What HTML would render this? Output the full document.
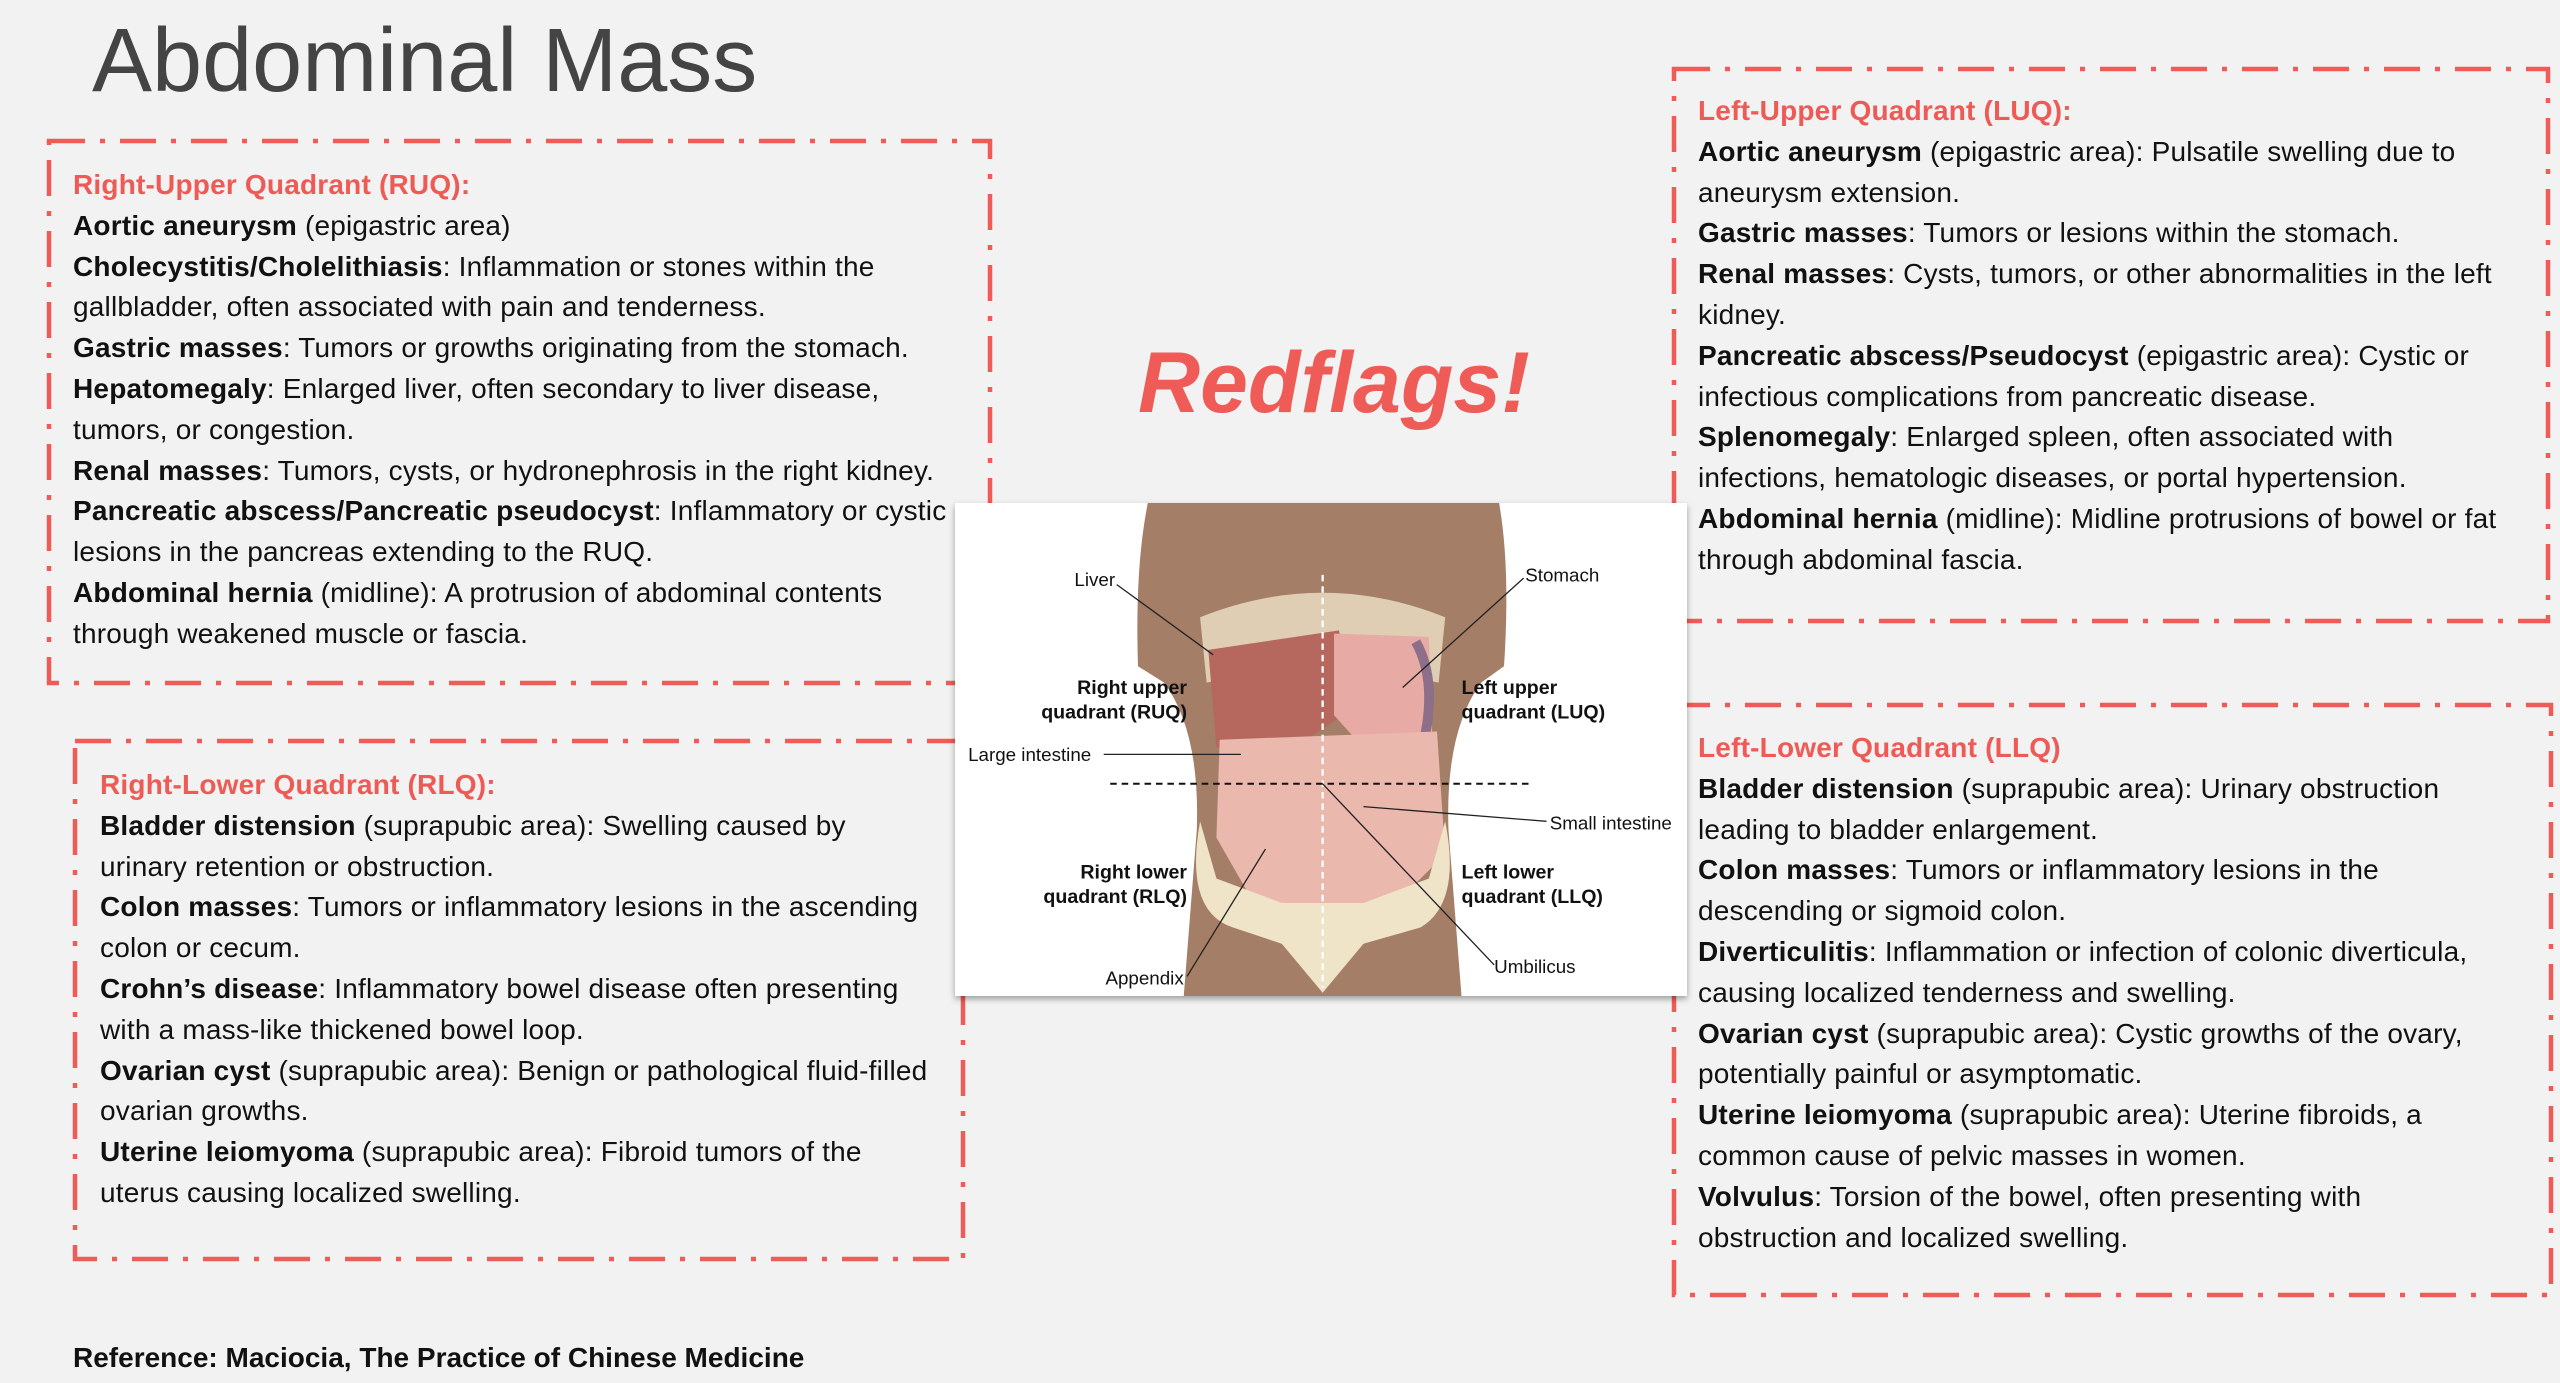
<!DOCTYPE html>
<html><head><meta charset="utf-8"><style>
html,body{margin:0;padding:0}
body{width:2560px;height:1383px;background:#f2f2f2;position:relative;overflow:hidden;font-family:"Liberation Sans",sans-serif;color:#111}
.t{position:absolute;font-size:28px;letter-spacing:0.2px;line-height:40.8px;white-space:nowrap}
.t .h{color:#ee5a55;font-weight:bold}
.t b{font-weight:bold}
svg{position:absolute;left:0;top:0}
</style></head><body>
<svg width="2560" height="1383">
<g fill="none" stroke="#ef5b57" stroke-width="4.5" stroke-dasharray="36 15 5 15">
<rect x="49" y="141" width="941" height="542"/>
<rect x="75" y="741" width="888" height="518"/>
<rect x="1674" y="69" width="874" height="552"/>
<rect x="1674" y="705" width="877" height="590"/>
</g>
</svg>
<div style="position:absolute;left:92px;top:12px;font-size:90px;line-height:1.1;color:#444">Abdominal Mass</div>
<div style="position:absolute;left:1138px;top:332px;font-size:86px;font-weight:bold;font-style:italic;color:#ef5b57;line-height:1.2">Redflags!</div>

<div class="t" style="left:73px;top:165px"><span class="h">Right-Upper Quadrant (RUQ):</span><br>
<b>Aortic aneurysm</b> (epigastric area)<br>
<b>Cholecystitis/Cholelithiasis</b>: Inflammation or stones within the<br>
gallbladder, often associated with pain and tenderness.<br>
<b>Gastric masses</b>: Tumors or growths originating from the stomach.<br>
<b>Hepatomegaly</b>: Enlarged liver, often secondary to liver disease,<br>
tumors, or congestion.<br>
<b>Renal masses</b>: Tumors, cysts, or hydronephrosis in the right kidney.<br>
<b>Pancreatic abscess/Pancreatic pseudocyst</b>: Inflammatory or cystic<br>
lesions in the pancreas extending to the RUQ.<br>
<b>Abdominal hernia</b> (midline): A protrusion of abdominal contents<br>
through weakened muscle or fascia.</div>

<div class="t" style="left:100px;top:765px"><span class="h">Right-Lower Quadrant (RLQ):</span><br>
<b>Bladder distension</b> (suprapubic area): Swelling caused by<br>
urinary retention or obstruction.<br>
<b>Colon masses</b>: Tumors or inflammatory lesions in the ascending<br>
colon or cecum.<br>
<b>Crohn’s disease</b>: Inflammatory bowel disease often presenting<br>
with a mass-like thickened bowel loop.<br>
<b>Ovarian cyst</b> (suprapubic area): Benign or pathological fluid-filled<br>
ovarian growths.<br>
<b>Uterine leiomyoma</b> (suprapubic area): Fibroid tumors of the<br>
uterus causing localized swelling.</div>

<div class="t" style="left:1698px;top:91px"><span class="h">Left-Upper Quadrant (LUQ):</span><br>
<b>Aortic aneurysm</b> (epigastric area): Pulsatile swelling due to<br>
aneurysm extension.<br>
<b>Gastric masses</b>: Tumors or lesions within the stomach.<br>
<b>Renal masses</b>: Cysts, tumors, or other abnormalities in the left<br>
kidney.<br>
<b>Pancreatic abscess/Pseudocyst</b> (epigastric area): Cystic or<br>
infectious complications from pancreatic disease.<br>
<b>Splenomegaly</b>: Enlarged spleen, often associated with<br>
infections, hematologic diseases, or portal hypertension.<br>
<b>Abdominal hernia</b> (midline): Midline protrusions of bowel or fat<br>
through abdominal fascia.</div>

<div class="t" style="left:1698px;top:728px"><span class="h">Left-Lower Quadrant (LLQ)</span><br>
<b>Bladder distension</b> (suprapubic area): Urinary obstruction<br>
leading to bladder enlargement.<br>
<b>Colon masses</b>: Tumors or inflammatory lesions in the<br>
descending or sigmoid colon.<br>
<b>Diverticulitis</b>: Inflammation or infection of colonic diverticula,<br>
causing localized tenderness and swelling.<br>
<b>Ovarian cyst</b> (suprapubic area): Cystic growths of the ovary,<br>
potentially painful or asymptomatic.<br>
<b>Uterine leiomyoma</b> (suprapubic area): Uterine fibroids, a<br>
common cause of pelvic masses in women.<br>
<b>Volvulus</b>: Torsion of the bowel, often presenting with<br>
obstruction and localized swelling.</div>

<div style="position:absolute;left:73px;top:1342px;font-size:28px;font-weight:bold">Reference: Maciocia, The Practice of Chinese Medicine</div>

<svg style="left:955px;top:503px;box-shadow:0 3px 6px rgba(0,0,0,.35)" width="732" height="493" viewBox="0 0 448 302" preserveAspectRatio="none">
<rect width="448" height="302" fill="#fff"/>
<path d="M118 0 L333 0 Q340 40 336 100 L322 110 Q300 140 302 200 L310 302 L140 302 L148 200 Q150 140 128 110 L112 100 Q110 40 118 0Z" fill="#a47e66"/>
<path d="M150 70 Q225 40 300 70 L296 110 Q225 95 154 110Z" fill="#efe2c8" opacity=".8"/>
<path d="M155 90 L235 78 L245 125 L215 145 L160 150Z" fill="#b6685f"/>
<path d="M232 80 L290 82 L292 140 L250 150 L232 130Z" fill="#e8aaa4"/>
<path d="M282 85 Q296 110 286 150" stroke="#8e6f8a" stroke-width="6" fill="none"/>
<path d="M162 145 L295 140 L300 215 L265 250 L225 255 L180 240 L160 205Z" fill="#ebb8ad"/>
<path d="M150 195 Q140 250 170 260 L200 270 L225 300 L250 270 L285 260 Q310 245 300 195 L290 230 L250 245 L200 245 L160 230Z" fill="#efe3c8"/>
<g fill="none" stroke="#fff" stroke-width="1.4" stroke-dasharray="4 3">
<line x1="225" y1="44" x2="225" y2="297"/></g>
<g fill="none" stroke="#111" stroke-width="1.2" stroke-dasharray="4 3">
<line x1="95" y1="172" x2="352" y2="172"/></g>
<g stroke="#222" stroke-width=".8" fill="none">
<line x1="99" y1="50" x2="158" y2="93"/>
<line x1="348" y1="46" x2="274" y2="113"/>
<line x1="91" y1="154" x2="175" y2="154"/>
<line x1="362" y1="195" x2="250" y2="186"/>
<line x1="142" y1="290" x2="190" y2="212"/>
<line x1="330" y1="283" x2="225" y2="172"/>
</g>
<g font-family="Liberation Sans, sans-serif" font-size="11.5" fill="#111">
<text x="98" y="51" text-anchor="end">Liver</text>
<text x="349" y="48">Stomach</text>
<text x="8" y="158">Large intestine</text>
<text x="364" y="200">Small intestine</text>
<text x="140" y="295" text-anchor="end">Appendix</text>
<text x="330" y="288">Umbilicus</text>
<g font-weight="bold" font-size="12">
<text x="142" y="117" text-anchor="end">Right upper</text>
<text x="142" y="132" text-anchor="end">quadrant (RUQ)</text>
<text x="310" y="117">Left upper</text>
<text x="310" y="132">quadrant (LUQ)</text>
<text x="142" y="230" text-anchor="end">Right lower</text>
<text x="142" y="245" text-anchor="end">quadrant (RLQ)</text>
<text x="310" y="230">Left lower</text>
<text x="310" y="245">quadrant (LLQ)</text>
</g></g>
</svg>
</body></html>
